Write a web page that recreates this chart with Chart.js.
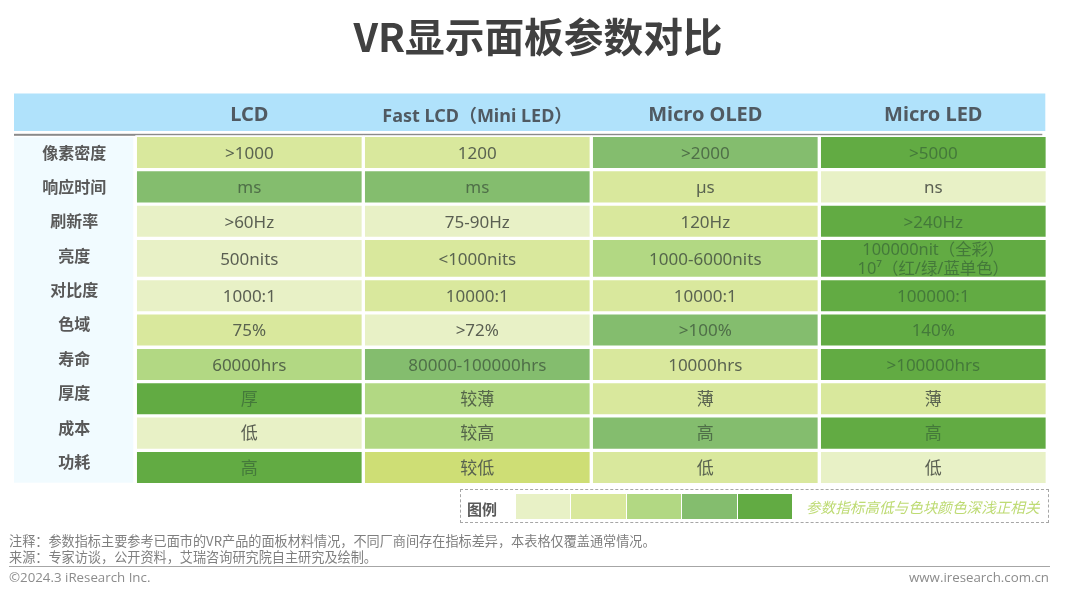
<!DOCTYPE html>
<html lang="zh">
<head>
<meta charset="utf-8">
<title>VR显示面板参数对比</title>
<script src="https://cdn.jsdelivr.net/npm/chart.js@4"></script>
<style>
    body { margin: 0; background: #fff; font-family: "Noto Sans CJK SC", sans-serif; }
    #page { position: relative; width: 1080px; height: 593px; overflow: hidden; }
    canvas { position: absolute; left: 0; top: 0; }
    .txt { position: absolute; white-space: nowrap; line-height: 1; }
    #title { left: 0; width: 1076px; top: 15px; text-align: center; font-size: 39.7px; font-weight: 700; color: #404040; }
    #legendBox { position: absolute; left: 460px; top: 489px; width: 587px; height: 32px; border: 1px dashed #a6a6a6; }
    #legendTitle { left: 467px; top: 501px; font-size: 15px; font-weight: 700; color: #595959; }
    #legendSwatches { position: absolute; left: 516px; top: 494px; display: flex; gap: 1px; }
    #legendSwatches div { width: 54.4px; height: 25px; }
    #legendNote { left: 806px; top: 500px; font-size: 14.6px; font-style: italic; color: #bedb74; }
    .note { left: 9px; font-size: 13.15px; color: #7f7f7f; }
    #rule { position: absolute; left: 9px; top: 566px; width: 1041px; height: 1px; background: #a6a6a6; }
    .foot { top: 571px; font-size: 13.3px; color: #8c8c8c; font-family: "Open Sans", sans-serif; }
</style>
</head>
<body>
<div id="page">
    <canvas id="tabela" width="1080" height="593"></canvas>
    <div id="title" class="txt">VR显示面板参数对比</div>
    <div id="legendBox"></div>
    <div id="legendTitle" class="txt">图例</div>
    <div id="legendSwatches"></div>
    <div id="legendNote" class="txt">参数指标高低与色块颜色深浅正相关</div>
    <div class="txt note" style="top:534px">注释：参数指标主要参考已面市的VR产品的面板材料情况，不同厂商间存在指标差异，本表格仅覆盖通常情况。</div>
    <div class="txt note" style="top:550px">来源：专家访谈，公开资料，艾瑞咨询研究院自主研究及绘制。</div>
    <div id="rule"></div>
    <div class="txt foot" style="left:9px">©2024.3 iResearch Inc.</div>
    <div class="txt foot" style="right:31px">www.iresearch.com.cn</div>
</div>

<script>
const panels = ['LCD', 'Fast LCD（Mini LED）', 'Micro OLED', 'Micro LED'];
const params = ['像素密度', '响应时间', '刷新率', '亮度', '对比度', '色域', '寿命', '厚度', '成本', '功耗'];

// cell text, one row per parameter
const densityText = ['>1000', '1200', '>2000', '>5000'];
const responseText = ['ms', 'ms', 'µs', 'ns'];
const refreshText = ['>60Hz', '75-90Hz', '120Hz', '>240Hz'];
const brightnessText = ['500nits', '<1000nits', '1000-6000nits', '100000nit（全彩）\n10⁷（红/绿/蓝单色）'];
const contrastText = ['1000:1', '10000:1', '10000:1', '100000:1'];
const gamutText = ['75%', '>72%', '>100%', '140%'];
const lifeText = ['60000hrs', '80000-100000hrs', '10000hrs', '>100000hrs'];
const thicknessText = ['厚', '较薄', '薄', '薄'];
const costText = ['低', '较高', '高', '高'];
const powerText = ['高', '较低', '低', '低'];
const cellText = [densityText, responseText, refreshText, brightnessText, contrastText,
    gamutText, lifeText, thicknessText, costText, powerText];

// level of each cell, 1 = lightest, 5 = darkest (2.5 = the odd yellow cell)
const densityLevel = [2, 2, 4, 5];
const responseLevel = [4, 4, 2, 1];
const refreshLevel = [1, 1, 2, 5];
const brightnessLevel = [1, 2, 3, 5];
const contrastLevel = [1, 2, 2, 5];
const gamutLevel = [2, 1, 4, 5];
const lifeLevel = [3, 4, 2, 5];
const thicknessLevel = [5, 3, 2, 2];
const costLevel = [1, 3, 4, 5];
const powerLevel = [5, 2.5, 2, 1];
const cellLevel = [densityLevel, responseLevel, refreshLevel, brightnessLevel, contrastLevel,
    gamutLevel, lifeLevel, thicknessLevel, costLevel, powerLevel];

const levelColors = { 1: '#e8f1c6', 2: '#d9e89d', 2.5: '#cede75', 3: '#b2d883', 4: '#84bd6e', 5: '#62ab43' };
const levelText = { 1: '#5a5f52', 2: '#5a6350', 2.5: '#5a6350', 3: '#55664a', 4: '#4f6f48', 5: '#44793a' };

const fontFamily = '"Noto Sans CJK SC", sans-serif';
const latinFamily = '"Noto Sans", "Noto Sans CJK SC", sans-serif';
const brightnessRow = params.indexOf('亮度');
const tallRow = 1.165;

// legend ramp
[1, 2, 3, 4, 5].forEach(function (level) {
    const swatch = document.createElement('div');
    swatch.style.background = levelColors[level];
    document.getElementById('legendSwatches').appendChild(swatch);
});

// header band, rule under it and the pale column behind the row names
const tableBackground = {
    id: 'tableBackground',
    beforeDraw(chart) {
        const c = chart.ctx;
        const area = chart.chartArea;
        c.save();
        c.fillStyle = '#b0e2fb';
        c.fillRect(14, 93.5, area.right - 16, 37.5);
        c.fillStyle = '#8a8a8a';
        c.fillRect(14, area.top - 1.5, area.right - 19, 2);
        c.fillStyle = '#f1fbff';
        c.fillRect(14, area.top + 2, area.left - 16, area.height - 4);
        c.restore();
    }
};

// text inside the cells
const cellLabels = {
    id: 'cellLabels',
    afterDatasetsDraw(chart) {
        const c = chart.ctx;
        c.save();
        c.textAlign = 'center';
        c.textBaseline = 'middle';
        chart.data.datasets.forEach(function (dataset, row) {
            chart.getDatasetMeta(row).data.forEach(function (bar, col) {
                const center = bar.getCenterPoint();
                const lines = cellText[row][col].split('\n');
                c.font = (lines.length > 1 ? '16.4px ' : '17px ') + latinFamily;
                c.fillStyle = levelText[cellLevel[row][col]];
                lines.forEach(function (line, i) {
                    c.fillText(line, center.x, center.y + 1.5 + (i - (lines.length - 1) / 2) * 18.5);
                });
            });
        });
        c.restore();
    }
};

const datasets = params.map(function (name, row) {
    return {
        label: name,
        data: panels.map(function () { return row === brightnessRow ? tallRow : 1; }),
        backgroundColor: cellLevel[row].map(function (level) { return levelColors[level]; }),
        borderColor: '#ffffff',
        borderWidth: 2,
        borderSkipped: false,
        barPercentage: 1,
        categoryPercentage: 1
    };
});

new Chart(document.getElementById('tabela').getContext('2d'), {
    type: 'bar',
    data: { labels: panels, datasets: datasets },
    plugins: [tableBackground, cellLabels],
    options: {
        responsive: false,
        animation: false,
        layout: { padding: { top: 93.5, right: 32.7, bottom: 108.3, left: 0 } },
        plugins: { legend: { display: false }, tooltip: { enabled: false } },
        scales: {
            x: {
                position: 'top',
                stacked: true,
                border: { display: false },
                grid: { display: false, drawTicks: false },
                ticks: {
                    padding: 8,
                    maxRotation: 0,
                    color: '#505a62',
                    // the long header is set smaller than the others
                    font: function (ctx) {
                        return { family: latinFamily, size: ctx.index === 1 ? 18 : 20, weight: '700' };
                    }
                },
                afterFit(scale) { scale.height = 41.8; }
            },
            y: {
                stacked: true,
                reverse: true,
                min: 0,
                max: params.length - 1 + tallRow,
                border: { display: false },
                grid: { display: false, drawTicks: false },
                // row names sit at an even step, they ignore the taller brightness row
                afterBuildTicks(scale) {
                    scale.ticks = params.map(function (name, i) { return { value: i + 0.5 }; });
                },
                ticks: {
                    autoSkip: false,
                    crossAlign: 'center',
                    padding: 29,
                    color: '#595959',
                    font: { family: fontFamily, size: 16, weight: '700' },
                    callback: function (value, index) { return params[index]; }
                },
                afterFit(scale) { scale.width = 135.3; }
            }
        }
    }
});
</script>
</body>
</html>
